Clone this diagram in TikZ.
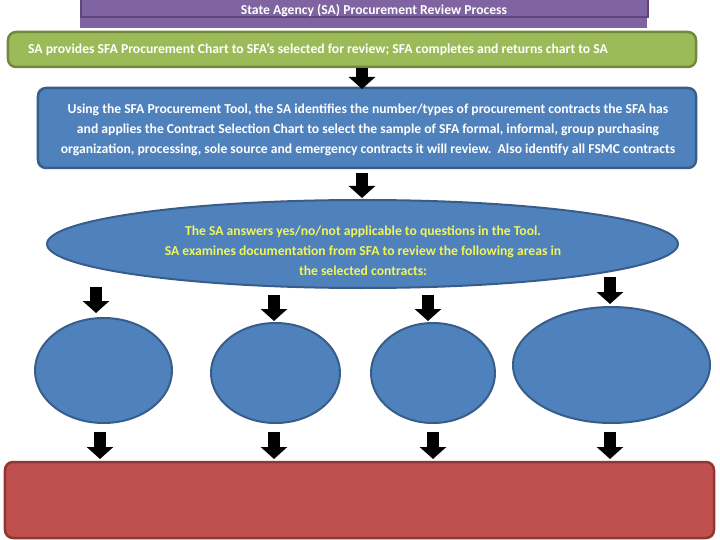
\documentclass[tikz,border=0pt]{standalone}
\usepackage{fontspec}
\setmainfont{Carlito}
\usetikzlibrary{shapes.geometric,arrows.meta}
\definecolor{purplefill}{HTML}{8064A2}
\definecolor{purpleline}{HTML}{5C4776}
\definecolor{greenfill}{HTML}{9BBB59}
\definecolor{greenline}{HTML}{71893F}
\definecolor{bluefill}{HTML}{4F81BD}
\definecolor{blueline}{HTML}{385D8A}
\definecolor{redfill}{HTML}{C0504D}
\definecolor{redline}{HTML}{8C3836}
\definecolor{paleyellow}{HTML}{F2F55A}
\newcommand{\txtfont}{\bfseries\fontsize{13.65bp}{20bp}\selectfont}
\tikzset{
  boxbase/.style={rounded corners=8bp, line width=2.5bp, inner sep=0pt, outer sep=0pt},
  greenbox/.style={boxbase, draw=greenline, fill=greenfill},
  bluebox/.style={boxbase, draw=blueline, fill=bluefill},
  redbox/.style={boxbase, draw=redline, fill=redfill},
  oval/.style={ellipse, draw=blueline, fill=bluefill, line width=2bp, inner sep=0pt, outer sep=0pt},
  boxtext/.style={align=center, font=\txtfont, inner sep=0pt},
  blockarrow/.style={line width=12bp, -{Triangle[width=26bp,length=12bp]}, black},
}
\begin{document}
\begin{tikzpicture}[x=1bp,y=-1bp]
\useasboundingbox (0,0) rectangle (720,540);
% title
\fill[purplefill] (80,-4) rectangle (647,28);
\node[draw=purpleline, fill=purplefill, line width=2bp, minimum width=567bp, minimum height=22bp, inner sep=0pt, anchor=south west] (title) at (80,18) {};
\node[boxtext, text=white] (titletext) at (374,11) {State Agency (SA) Procurement Review Process};
% green box
\node[greenbox, minimum width=688bp, minimum height=35bp] (green) at (352,49.5) {};
\node[boxtext, text=white, anchor=west] (greentext) at (28,50) {SA provides SFA Procurement Chart to SFA’s selected for review; SFA completes and returns chart to SA};
% blue box
\node[bluebox, minimum width=658bp, minimum height=80bp] (blue) at (367,128) {};
\node[boxtext, text=white] (bluetext) at (368,130) {Using the SFA Procurement Tool, the SA identifies the number/types of procurement contracts the SFA has\\and applies the Contract Selection Chart to select the sample of SFA formal, informal, group purchasing\\organization, processing, sole source and emergency contracts it will review.\ \ Also identify all FSMC contracts};
% big ellipse
\node[oval, minimum width=631bp, minimum height=88bp] (big) at (362.5,244) {};
\node[boxtext, text=paleyellow] (bigtext) at (363,251) {The SA answers yes/no/not applicable to questions in the Tool.\\SA examines documentation from SFA to review the following areas in\\the selected contracts:};
% four ovals
\node[oval, minimum width=137bp, minimum height=105bp] (c1) at (103.5,370.5) {};
\node[oval, minimum width=129bp, minimum height=100bp] (c2) at (275.5,373) {};
\node[oval, minimum width=124bp, minimum height=100bp] (c3) at (433,373) {};
\node[oval, minimum width=197bp, minimum height=116bp] (c4) at (611.5,365) {};
% red box
\node[redbox, minimum width=709bp, minimum height=76bp] (red) at (359.5,500) {};
% arrow end points
\coordinate (a1s) at (362,68);  \coordinate (a1e) at (362,89);
\coordinate (a2s) at (362,173); \coordinate (a2e) at (362,198);
\coordinate (b1s) at (96,287);  \coordinate (b1e) at (96,313);
\coordinate (b2s) at (274,295); \coordinate (b2e) at (274,321);
\coordinate (b3s) at (428,295); \coordinate (b3e) at (428,321);
\coordinate (b4s) at (610,277); \coordinate (b4e) at (610,304);
\coordinate (d1s) at (100,432); \coordinate (d1e) at (100,459);
\coordinate (d2s) at (274,432); \coordinate (d2e) at (274,459);
\coordinate (d3s) at (433,432); \coordinate (d3e) at (433,459);
\coordinate (d4s) at (610,432); \coordinate (d4e) at (610,459);
\foreach \p in {a1,a2,b1,b2,b3,b4,d1,d2,d3,d4}{
  \draw[blockarrow] (\p s) -- (\p e);
}
\end{tikzpicture}
\end{document}
